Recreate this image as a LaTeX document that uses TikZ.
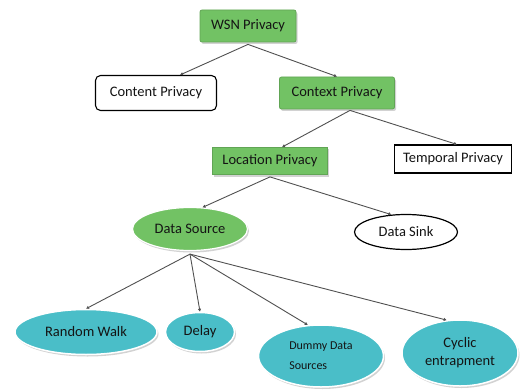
\documentclass[tikz,border=0pt]{standalone}
\usepackage{fontspec}
\setmainfont{Carlito}
\usetikzlibrary{shapes.geometric,arrows.meta,shadows}
\definecolor{boxgreen}{RGB}{114,194,100}
\definecolor{ovalcyan}{RGB}{74,190,200}
\definecolor{linegray}{RGB}{80,80,80}
\definecolor{txt}{RGB}{20,20,20}
\tikzset{
  base/.style={draw=black, line width=0.8pt, inner sep=0pt, text=txt,
    font=\fontsize{14.5}{17}\selectfont},
  shad/.style={drop shadow={shadow xshift=1.5pt, shadow yshift=-2pt, fill=black!35, opacity=0.5}},
  greenbox/.style={base, shad, rectangle, rounded corners=2pt, fill=boxgreen, draw=boxgreen!85!black},
  greenrect/.style={base, shad, rectangle, fill=boxgreen, draw=boxgreen!85!black},
  whitebox/.style={base, rectangle, rounded corners=5pt, fill=white, line width=1.1pt},
  whiterect/.style={base, rectangle, fill=white, line width=1.1pt},
  greenoval/.style={base, shad, ellipse, fill=boxgreen, draw=white, line width=1.2pt},
  whiteoval/.style={base, ellipse, fill=white, line width=1.2pt},
  cyanoval/.style={base, shad, ellipse, fill=ovalcyan, draw=white, line width=1.5pt},
  conn/.style={draw=linegray, line width=0.9pt, -{Latex[length=3pt,width=3.5pt]}}
}
\begin{document}
\begin{tikzpicture}[x=1pt,y=-1pt]
\useasboundingbox (0,0) rectangle (521,390);
\node[greenbox, minimum width=96, minimum height=32] (wsn) at (248,26) {WSN Privacy};
\node[whitebox, minimum width=121, minimum height=35] (content) at (156,93) {Content Privacy};
\node[greenbox, minimum width=115, minimum height=32] (context) at (337,93) {Context Privacy};
\node[greenrect, minimum width=115, minimum height=27] (location) at (270,161) {Location Privacy};
\node[whiterect, minimum width=117, minimum height=28] (temporal) at (453,159) {Temporal Privacy};
\node[greenoval, minimum width=115, minimum height=43] (dsource) at (190,229) {Data Source};
\node[whiteoval, minimum width=103, minimum height=35] (dsink) at (406,232) {Data Sink};
\node[cyanoval, minimum width=142, minimum height=45] (rwalk) at (86,332) {Random Walk};
\node[cyanoval, minimum width=69, minimum height=39] (delay) at (200,332) {Delay};
\node[cyanoval, minimum width=125, minimum height=62, align=left,
  font=\fontsize{12}{20}\selectfont] (dummy) at (321,356) {Dummy Data\\Sources};
\node[cyanoval, minimum width=116, minimum height=66, align=center,
  font=\fontsize{14.5}{18}\selectfont] (cyclic) at (460,353) {Cyclic\\entrapment};

\draw[conn] ([yshift=-2pt]wsn.south) -- ([xshift=24pt]content.north);
\draw[conn] ([yshift=-2pt]wsn.south) -- (context.north);
\draw[conn] ([xshift=13pt,yshift=-1pt]context.south) -- ([xshift=12pt]location.north);
\draw[conn] ([xshift=13pt,yshift=-1pt]context.south) -- ([xshift=4pt]temporal.north);
\draw[conn] ([yshift=-2pt]location.south) -- (dsource.60);
\draw[conn] ([yshift=-2pt]location.south) -- (dsink.130);
\draw[conn] ([yshift=-3pt]dsource.south) -- (rwalk.north);
\draw[conn] ([yshift=-3pt]dsource.south) -- (delay.north);
\draw[conn] ([yshift=-3pt]dsource.south) -- (dummy.113);
\draw[conn] ([yshift=-3pt]dsource.south) -- (cyclic.112);
\end{tikzpicture}
\end{document}
